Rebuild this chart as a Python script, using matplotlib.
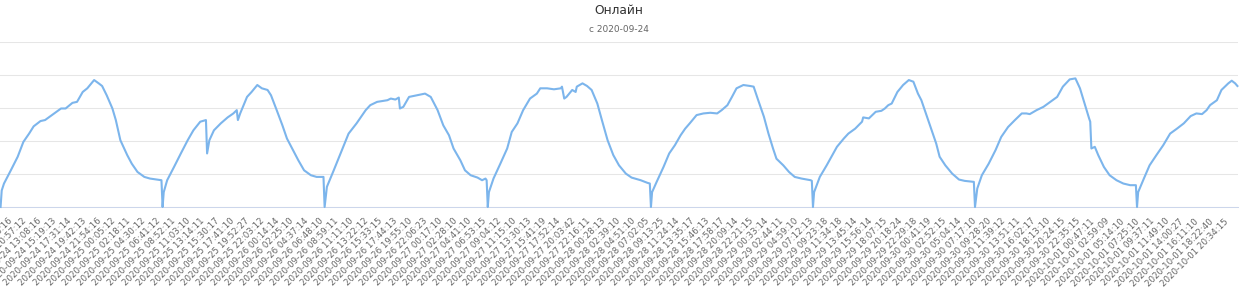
import matplotlib
matplotlib.use("Agg")
import matplotlib.pyplot as plt

# номер точки (шаг ~10 минут) и онлайн
idx = [0, 1, 3, 9, 15, 20, 25, 29, 35, 39,
       47, 53, 57, 63, 67, 72, 76, 82, 86, 89,
       93, 98, 101, 105, 111, 115, 120, 126, 131, 137,
       141, 142, 143, 146, 152, 158, 164, 169, 175, 180,
       181, 183, 187, 193, 199, 204, 207, 208, 210, 216,
       220, 225, 229, 234, 237, 242, 247, 251, 257, 261,
       266, 272, 277, 283, 284, 286, 292, 298, 305, 312,
       320, 324, 330, 339, 342, 346, 349, 350, 353, 358,
       365, 372, 377, 383, 388, 393, 397, 403, 407, 412,
       418, 422, 425, 426, 427, 428, 432, 438, 444, 448,
       453, 458, 464, 470, 473, 479, 485, 491, 492, 494,
       496, 501, 504, 505, 510, 514, 518, 523, 527, 532,
       537, 542, 548, 553, 561, 567, 569, 570, 571, 575,
       581, 586, 591, 596, 600, 604, 610, 616, 622, 628,
       632, 637, 641, 645, 651, 657, 660, 664, 669, 673,
       677, 680, 686, 691, 696, 702, 710, 711, 712, 713,
       718, 724, 733, 739, 743, 749, 755, 756, 761, 767,
       772, 775, 778, 781, 786, 791, 796, 800, 804, 807,
       812, 816, 820, 823, 828, 834, 840, 845, 853, 854,
       856, 860, 866, 872, 877, 883, 889, 895, 899, 902,
       908, 914, 920, 926, 931, 937, 942, 946, 950, 954,
       955, 956, 959, 962, 967, 972, 978, 984, 990, 995,
       996, 997, 1002, 1007, 1013, 1019, 1025, 1031, 1037, 1043,
       1048, 1053, 1057, 1060, 1066, 1070, 1076, 1079, 1082, 1084]

online = [0, 50, 71, 111, 152, 197, 222, 244, 260, 263,
          283, 298, 298, 315, 318, 348, 359, 384, 374, 366,
          338, 298, 263, 202, 157, 131, 106, 91, 86, 83,
          81, 0, 45, 81, 121, 162, 202, 232, 258, 263,
          162, 202, 232, 253, 271, 283, 293, 263, 283, 333,
          348, 369, 359, 354, 338, 293, 247, 207, 167, 141,
          111, 96, 91, 91, 0, 61, 111, 162, 222, 253,
          293, 308, 318, 323, 328, 325, 331, 298, 303, 333,
          338, 343, 333, 293, 247, 217, 177, 141, 111, 96,
          89, 81, 86, 81, 0, 45, 86, 131, 177, 227,
          253, 293, 328, 343, 359, 359, 356, 359, 364, 328,
          333, 354, 348, 364, 374, 366, 354, 313, 263, 202,
          157, 126, 101, 89, 81, 73, 71, 0, 45, 76,
          121, 162, 187, 217, 237, 253, 278, 283, 285, 283,
          293, 308, 333, 359, 369, 366, 364, 323, 273, 222,
          177, 146, 126, 106, 91, 86, 81, 79, 0, 45,
          91, 126, 182, 207, 222, 237, 258, 271, 268, 288,
          291, 298, 308, 313, 348, 369, 384, 379, 343, 323,
          273, 232, 192, 152, 126, 101, 83, 79, 76, 0,
          56, 96, 131, 172, 212, 242, 263, 283, 283, 281,
          293, 303, 318, 333, 364, 386, 389, 359, 313, 268,
          258, 177, 182, 157, 121, 96, 81, 71, 66, 66,
          0, 45, 86, 126, 157, 187, 222, 237, 253, 275,
          283, 281, 293, 308, 323, 354, 374, 382, 374, 366]

labels = [
    "2020-09-24 08:46:16", "2020-09-24 10:57:12", "2020-09-24 13:08:16", "2020-09-24 15:19:13",
    "2020-09-24 17:31:14", "2020-09-24 19:42:13", "2020-09-24 21:54:16",
    "2020-09-25 00:05:12", "2020-09-25 02:18:11", "2020-09-25 04:30:12", "2020-09-25 06:41:12",
    "2020-09-25 08:52:11", "2020-09-25 11:03:10", "2020-09-25 13:14:11", "2020-09-25 15:30:17",
    "2020-09-25 17:41:10", "2020-09-25 19:52:27", "2020-09-25 22:03:12",
    "2020-09-26 00:14:14", "2020-09-26 02:25:10", "2020-09-26 04:37:14", "2020-09-26 06:48:10",
    "2020-09-26 08:59:11", "2020-09-26 11:11:10", "2020-09-26 13:22:12", "2020-09-26 15:33:15",
    "2020-09-26 17:44:13", "2020-09-26 19:55:10", "2020-09-26 22:06:23",
    "2020-09-27 00:17:10", "2020-09-27 02:28:10", "2020-09-27 04:41:10", "2020-09-27 06:53:15",
    "2020-09-27 09:04:12", "2020-09-27 11:15:10", "2020-09-27 13:30:13", "2020-09-27 15:41:19",
    "2020-09-27 17:52:14", "2020-09-27 20:03:42", "2020-09-27 22:16:11",
    "2020-09-28 00:28:13", "2020-09-28 02:39:10", "2020-09-28 04:51:10", "2020-09-28 07:02:05",
    "2020-09-28 09:13:25", "2020-09-28 11:24:14", "2020-09-28 13:35:17", "2020-09-28 15:46:13",
    "2020-09-28 17:58:17", "2020-09-28 20:09:14", "2020-09-28 22:21:15",
    "2020-09-29 00:33:14", "2020-09-29 02:44:11", "2020-09-29 04:59:10", "2020-09-29 07:12:13",
    "2020-09-29 09:23:18", "2020-09-29 11:34:18", "2020-09-29 13:45:14", "2020-09-29 15:56:14",
    "2020-09-29 18:07:15", "2020-09-29 20:18:24", "2020-09-29 22:29:18",
    "2020-09-30 00:41:19", "2020-09-30 02:52:15", "2020-09-30 05:04:14", "2020-09-30 07:17:10",
    "2020-09-30 09:28:20", "2020-09-30 11:39:12", "2020-09-30 13:51:11", "2020-09-30 16:02:17",
    "2020-09-30 18:13:10", "2020-09-30 20:24:15", "2020-09-30 22:35:15",
    "2020-10-01 00:47:11", "2020-10-01 02:59:09", "2020-10-01 05:14:10", "2020-10-01 07:25:10",
    "2020-10-01 09:37:11", "2020-10-01 11:49:10", "2020-10-01 14:00:27", "2020-10-01 16:11:10",
    "2020-10-01 18:22:40", "2020-10-01 20:34:15",
]
n_points = 1085
tick_start = 6
tick_step = 13

fig = plt.figure(figsize=(12.45, 2.88), dpi=100)
ax = fig.add_axes([0, 1 - 207 / 288, 1238 / 1245, (207 - 41.7) / 288])

ax.plot(idx, online, color="#7cb5ec", lw=1.5, solid_joinstyle="round", clip_on=False, zorder=3)

ax.set_xlim(-0.5, n_points - 0.5)
ax.set_ylim(0, 500)
ax.set_yticks(range(0, 501, 100))
ax.yaxis.grid(True, color="#e6e6e6", lw=0.75)
ax.set_axisbelow(True)
ax.tick_params(axis="y", left=False, labelleft=False)

ticks = [tick_start + tick_step * i for i in range(len(labels))]
ax.set_xticks(ticks)
ax.set_xticklabels(labels, rotation=45, ha="right", rotation_mode="anchor",
                   fontsize=6.2, color="#666666")
ax.tick_params(axis="x", length=0, pad=7)

for s in ["top", "left", "right"]:
    ax.spines[s].set_visible(False)
ax.spines["bottom"].set_color("#ccd6eb")
ax.spines["bottom"].set_linewidth(0.75)

fig.text(619 / 1245, 1 - 11 / 288, "Онлайн", ha="center", va="center",
         fontsize=8.8, color="#333333")
fig.text(619 / 1245, 1 - 29.5 / 288, "с 2020-09-24", ha="center", va="center",
         fontsize=6.5, color="#666666")

fig.savefig("out.png", dpi=100)
